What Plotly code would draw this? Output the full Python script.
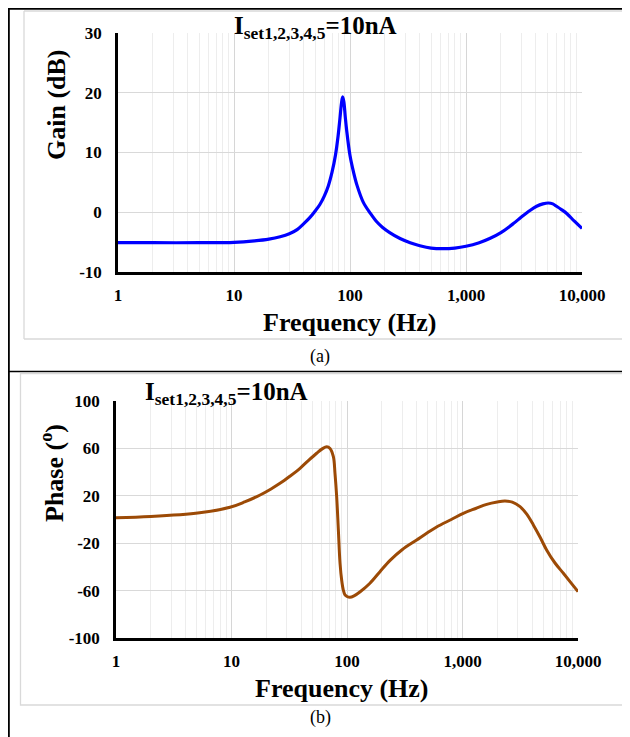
import plotly.graph_objects as go

W, H = 630, 737
# the page places the figure 8 px in from the window's top-left corner
OX, OY = 8, 8

# ---- data ----
gain_freq = [1, 2, 5, 10, 15, 20, 25, 30, 35, 40, 45, 50, 55, 60, 65, 70, 75, 79, 82,
             84.5, 86.5, 88.5, 91, 93.6, 100, 107, 115, 130, 150, 170, 190, 220, 270,
             330, 400, 500, 630, 800, 1000, 1300, 1600, 2000, 2560, 3000, 3560, 4065,
             4600, 5130, 5600, 6030, 6700, 7380, 8600, 10000]
gain_db = [-5.1, -5.1, -5.1, -5.05, -4.8, -4.5, -4.1, -3.6, -2.9, -1.9, -0.9, 0.2, 1.3,
           2.7, 4.4, 6.7, 9.6, 12.8, 15.8, 18.3, 19.3, 18.5, 16.0, 13.7, 9.5, 6.8, 4.5,
           1.7, -0.2, -1.6, -2.5, -3.4, -4.4, -5.1, -5.6, -6.0, -6.1, -6.0, -5.7, -5.1,
           -4.4, -3.4, -1.9, -0.8, 0.3, 1.0, 1.4, 1.55, 1.4, 1.0, 0.4, -0.2, -1.5, -2.7]

phase_freq = [1, 2, 5.3, 9.7, 13, 17.7, 22, 26.3, 32, 39.2, 46, 54.6, 61, 66.7, 71.3,
              76.2, 78.7, 81.4, 84.2, 87, 90, 92.9, 96.1, 100, 106, 115, 130, 158, 193,
              236, 300, 401, 500, 597, 800, 1016, 1300, 1619, 2000, 2333, 2700, 3150,
              3600, 4105, 4700, 5350, 6300, 7470, 8700, 10000]
phase_deg = [1.5, 2.5, 5.7, 10.3, 14.8, 20.7, 25.8, 30.5, 36.5, 43.2, 49.5, 55.9, 59.6,
             61.4, 60, 53, 39, 19.2, -8.9, -36.7, -51.5, -59.5, -63.7, -65, -65.7, -64.5,
             -61, -53.8, -44, -34.5, -25.5, -17.3, -11, -6.3, 0, 5.2, 9.3, 12.8, 14.8,
             15.6, 14.6, 10.8, 4.5, -4.6, -15, -25.7, -36.5, -45.4, -53.5, -60.9]

freq_tickvals = [1, 10, 100, 1000, 10000]
freq_ticktext = ["1", "10", "100", "1,000", "10,000"]
gain_ticks = [-10, 0, 10, 20, 30]
gain_ticktext = ["-10", "0", "10", "20", "30"]
phase_ticks = [-100, -60, -20, 20, 60, 100]
phase_ticktext = ["-100", "-60", "-20", "20", "60", "100"]

FONT = "Liberation Serif, Times New Roman, serif"


def px(x):
    return (x - OX) / W


def py(y):
    return 1 - (y - OY) / H


minor_vals = [m * 10 ** d for d in range(4) for m in range(2, 10)]

fig = go.Figure()
fig.add_trace(go.Scatter(x=gain_freq, y=gain_db, mode="lines",
                         line=dict(color="#0000ff", width=3.2, shape="spline", smoothing=1.0),
                         xaxis="x", yaxis="y", showlegend=False))
fig.add_trace(go.Scatter(x=phase_freq, y=phase_deg, mode="lines",
                         line=dict(color="#9c4a06", width=3, shape="spline", smoothing=1.0),
                         xaxis="x2", yaxis="y2", showlegend=False))

tickfont = dict(family=FONT, size=17, color="black", weight="bold")
xcommon = dict(type="log", range=[0, 4], tickvals=freq_tickvals, ticktext=freq_ticktext,
               showgrid=True, gridcolor="#d6d6d6", gridwidth=1.3,
               minor=dict(tickvals=minor_vals, showgrid=True, gridcolor="#ededed", gridwidth=1.3),
               showline=True, linecolor="black", linewidth=2.5, ticks="",
               ticklabelstandoff=6, zeroline=False, automargin=False, tickfont=tickfont)
ycommon = dict(showgrid=True, gridcolor="#d9d9d9", gridwidth=1.3,
               showline=True, linecolor="black", linewidth=2.5, ticks="",
               ticklabelstandoff=10, zeroline=False, automargin=False, tickfont=tickfont)

fig.update_layout(
    width=W, height=H, margin=dict(l=0, r=0, t=0, b=0, pad=0, autoexpand=False),
    paper_bgcolor="white", plot_bgcolor="white",
    xaxis=dict(domain=[px(118), px(582)], anchor="y", **xcommon),
    yaxis=dict(domain=[py(272), py(33)], anchor="x", range=[-10, 30],
               tickvals=gain_ticks, ticktext=gain_ticktext, **ycommon),
    xaxis2=dict(domain=[px(116), px(578)], anchor="y2", **xcommon),
    yaxis2=dict(domain=[py(638), py(401)], anchor="x2", range=[-100, 100],
                tickvals=phase_ticks, ticktext=phase_ticktext, **ycommon),
)

shapes = []
# table borders (the outer ones sit at the very edge of what can be drawn)
shapes.append(dict(type="line", xref="paper", yref="paper", x0=px(8), x1=px(640), y0=py(8.9), y1=py(8.9),
                   line=dict(color="black", width=1.8)))
shapes.append(dict(type="line", xref="paper", yref="paper", x0=px(8.9), x1=px(8.9), y0=py(8), y1=py(745),
                   line=dict(color="black", width=1.8)))
shapes.append(dict(type="line", xref="paper", yref="paper", x0=px(8), x1=px(640), y0=py(371.5), y1=py(371.5),
                   line=dict(color="black", width=1.5)))
# chart area borders
shapes.append(dict(type="line", xref="paper", yref="paper", x0=px(24), x1=px(640), y0=py(11), y1=py(11),
                   line=dict(color="#d9d9d9", width=1.3)))
shapes.append(dict(type="line", xref="paper", yref="paper", x0=px(24), x1=px(640), y0=py(339), y1=py(339),
                   line=dict(color="#d9d9d9", width=1.3)))
shapes.append(dict(type="line", xref="paper", yref="paper", x0=px(24), x1=px(24), y0=py(11), y1=py(339),
                   line=dict(color="#d9d9d9", width=1.3)))
shapes.append(dict(type="rect", xref="paper", yref="paper", x0=px(20.5), x1=px(628), y0=py(705), y1=py(373.5),
                   line=dict(color="#d9d9d9", width=1.3)))
fig.update_layout(shapes=shapes)

title_txt = "I<sub>set1,2,3,4,5</sub>=10nA"
big = dict(family=FONT, size=25, color="black", weight="bold")
axt = dict(family=FONT, size=26, color="black", weight="bold")
ann = []
ann.append(dict(text=title_txt, x=px(315), y=py(28), xref="paper", yref="paper",
                showarrow=False, xanchor="center", yanchor="middle", font=big))
ann.append(dict(text=title_txt, x=px(226), y=py(394), xref="paper", yref="paper",
                showarrow=False, xanchor="center", yanchor="middle", font=big))
ann.append(dict(text="Gain (dB)", x=px(57), y=py(105), xref="paper", yref="paper",
                showarrow=False, textangle=-90, xanchor="center", yanchor="middle", font=axt))
ann.append(dict(text="Phase (<sup>o</sup>)", x=px(52), y=py(473), xref="paper", yref="paper",
                showarrow=False, textangle=-90, xanchor="center", yanchor="middle", font=axt))
ann.append(dict(text="Frequency (Hz)", x=px(350), y=py(323), xref="paper", yref="paper",
                showarrow=False, xanchor="center", yanchor="middle", font=axt))
ann.append(dict(text="Frequency (Hz)", x=px(342), y=py(688), xref="paper", yref="paper",
                showarrow=False, xanchor="center", yanchor="middle", font=axt))
ann.append(dict(text="(a)", x=px(320), y=py(356), xref="paper", yref="paper",
                showarrow=False, xanchor="center", yanchor="middle",
                font=dict(family=FONT, size=18, color="black")))
ann.append(dict(text="(b)", x=px(320), y=py(717), xref="paper", yref="paper",
                showarrow=False, xanchor="center", yanchor="middle",
                font=dict(family=FONT, size=18, color="black")))
fig.update_layout(annotations=ann)

fig.write_html("out.html")
